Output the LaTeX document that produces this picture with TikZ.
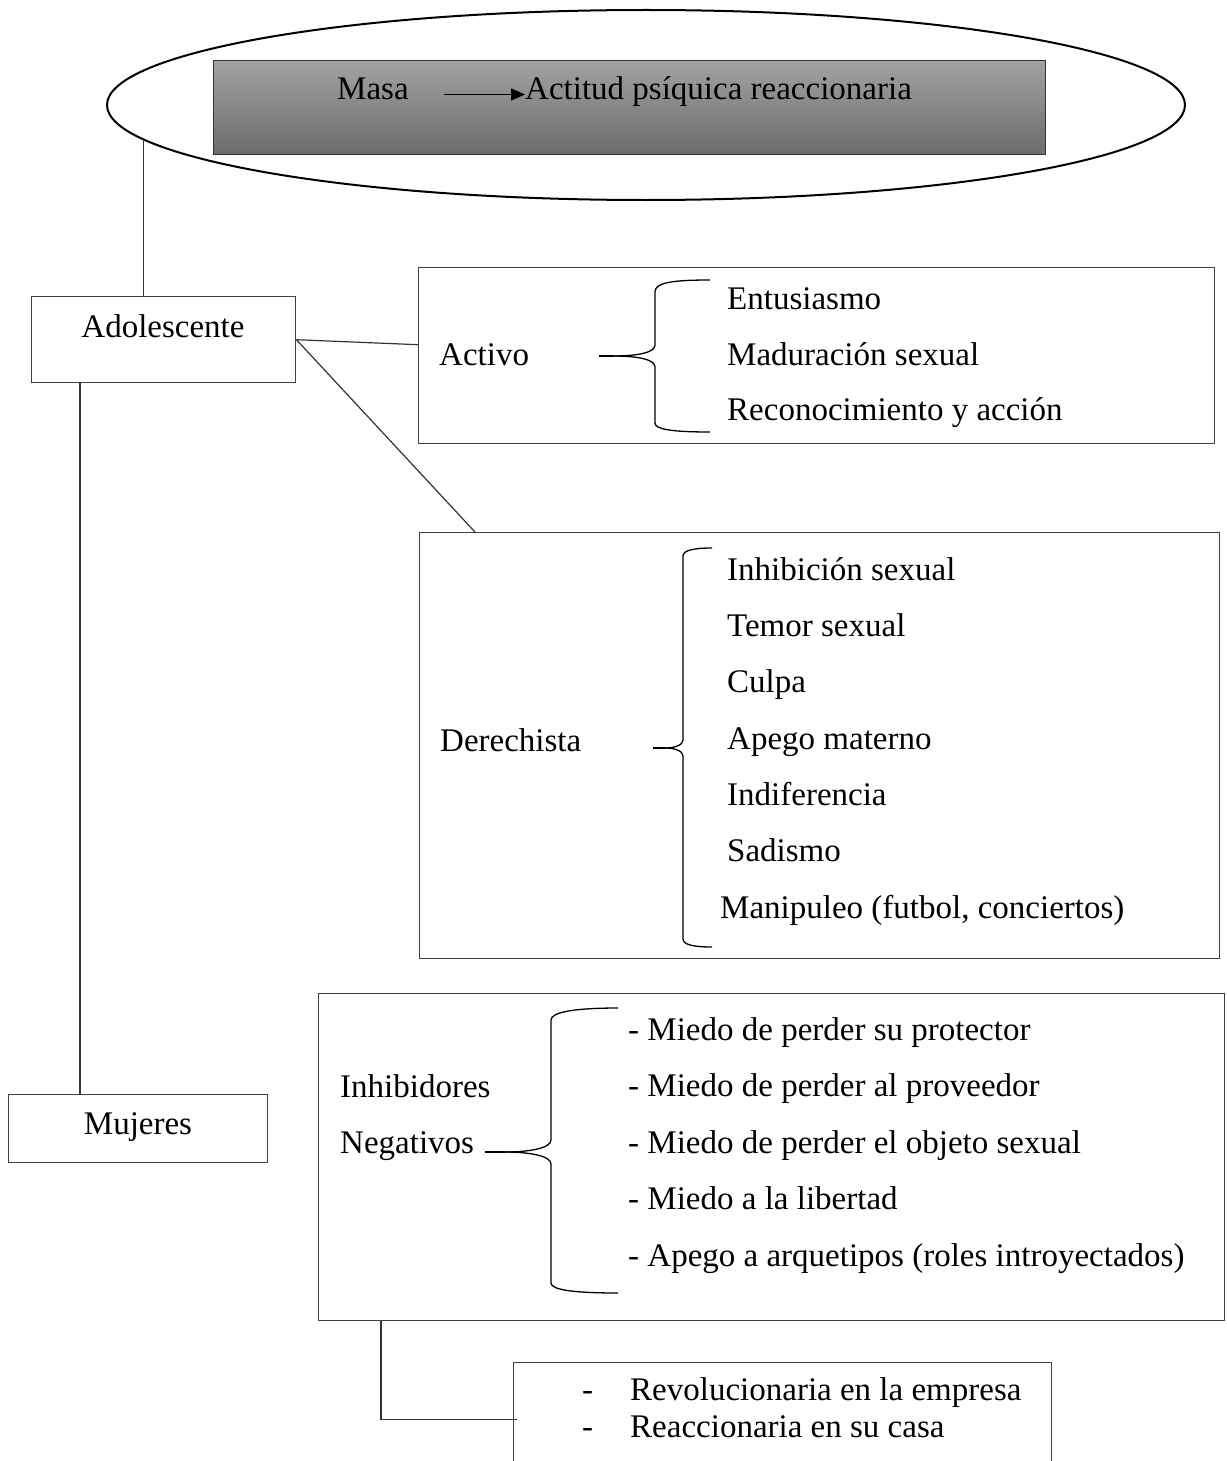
\documentclass[tikz,border=0pt]{standalone}
\usepackage{fontspec}
\setmainfont{Liberation Serif}
\usetikzlibrary{shapes.geometric, arrows.meta}
\definecolor{boxline}{RGB}{64,64,64}
\definecolor{shadetop}{RGB}{162,162,162}
\definecolor{shadebot}{RGB}{108,108,108}

\begin{document}
\begin{tikzpicture}[
  x=1pt, y=-1pt,
  box/.style={rectangle, draw=boxline, line width=1.4pt, anchor=north west,
              inner sep=0pt},
  txt/.style={font=\fontsize{33}{40}\selectfont, inner sep=0pt,
              text height=0.75em, text depth=0.25em},
  item/.style={txt, anchor=base west},
  con/.style={line width=1.2pt, draw=black!80},
  brc/.style={line width=1.3pt}
]
\useasboundingbox (0,0) rectangle (1226,1461);
\clip (0,0) rectangle (1226,1461);

% Top ellipse with shaded title box
\node[ellipse, draw, line width=2pt, minimum width=1078pt, minimum height=190pt,
      inner sep=0pt] (ell) at (646,105) {};
\node[box, draw=black!80, line width=1pt, top color=shadetop, bottom color=shadebot,
      minimum width=832pt, minimum height=94pt] (masabox) at (213,60) {};
\node[item] (masa) at (337,100) {Masa};
\node[item] (actitud) at (525,100) {Actitud psíquica reaccionaria};
\draw[-{Triangle[length=14pt,width=12pt]}, line width=1.4pt, shorten <=35pt]
  ([yshift=3pt]masa.east) -- ([yshift=3pt]actitud.west);

% Adolescente
\node[box, minimum width=264pt, minimum height=86pt] (adol) at (31,296) {};
\node[txt, anchor=base] (adolt) at (163,337) {Adolescente};

% Activo
\node[box, minimum width=796pt, minimum height=176pt] (activo) at (418,267) {};
\node[item] (activot) at (439,365) {Activo};
\draw[brc] (599,356) -- (613,356);
\draw[brc] (710,280) .. controls (670,280) and (655,283) .. (655,292) -- (655,345)
  .. controls (655,352) and (640,356) .. (613,356);
\draw[brc] (613,356) .. controls (640,356) and (655,360) .. (655,367) -- (655,423)
  .. controls (655,429) and (670,432) .. (710,432);
\node[item] (ac1) at (727,309) {Entusiasmo};
\node[item] (ac2) at (727,365) {Maduración sexual};
\node[item] (ac3) at (727,420) {Reconocimiento y acción};

% Derechista
\node[box, minimum width=800pt, minimum height=426pt] (dere) at (419,532) {};
\node[item] (deret) at (440,751) {Derechista};
\draw[brc] (653,748) -- (665,748);
\draw[brc] (712,548) .. controls (695,548) and (683,550) .. (683,556) -- (683,740)
  .. controls (683,745) and (675,748) .. (665,748);
\draw[brc] (665,748) .. controls (675,748) and (683,751) .. (683,756) -- (683,939)
  .. controls (683,945) and (695,947) .. (712,947);
\node[item] (de1) at (727,580) {Inhibición sexual};
\node[item] (de2) at (727,636) {Temor sexual};
\node[item] (de3) at (727,692) {Culpa};
\node[item] (de4) at (727,749) {Apego materno};
\node[item] (de5) at (727,805) {Indiferencia};
\node[item] (de6) at (727,861) {Sadismo};
\node[item] (de7) at (720,918) {Manipuleo (futbol, conciertos)};

% Inhibidores negativos
\node[box, minimum width=906pt, minimum height=327pt] (inh) at (318,993) {};
\node[item] (inht1) at (340,1097) {Inhibidores};
\node[item] (inht2) at (340,1153) {Negativos};
\draw[brc] (485,1152) -- (505,1152);
\draw[brc] (618,1008) .. controls (575,1008) and (551,1012) .. (551,1020) -- (551,1140)
  .. controls (551,1148) and (530,1152) .. (505,1152);
\draw[brc] (505,1152) .. controls (530,1152) and (551,1156) .. (551,1164) -- (551,1283)
  .. controls (551,1290) and (575,1293) .. (618,1293);
\node[item] (in1) at (628,1040) {- Miedo de perder su protector};
\node[item] (in2) at (628,1096) {- Miedo de perder al proveedor};
\node[item] (in3) at (628,1153) {- Miedo de perder el objeto sexual};
\node[item] (in4) at (628,1209) {- Miedo a la libertad};
\node[item] (in5) at (628,1266) {- Apego a arquetipos (roles introyectados)};

% Mujeres
\node[box, minimum width=259pt, minimum height=68pt] (muj) at (8,1094) {};
\node[txt, anchor=base] (mujt) at (138,1134) {Mujeres};

% Bottom box (runs off the page)
\node[box, minimum width=538pt, minimum height=114pt] (bot) at (513,1362) {};
\node[item] (bd1) at (582,1400) {-};
\node[item] (bt1) at (630,1400) {Revolucionaria en la empresa};
\node[item] (bd2) at (582,1437) {-};
\node[item] (bt2) at (630,1437) {Reaccionaria en su casa};

% Connectors
\draw[con] (ell.184) -- (ell.184 |- adol.north);
\draw[con] (adol.east) -- ([yshift=11pt]activo.west);
\draw[con] (adol.east) -- ([xshift=56pt]dere.north west);
\draw[con] ([xshift=49pt]adol.south west) -- ([xshift=49pt]adol.south west |- muj.north);
\draw[con] ([xshift=63pt]inh.south west) |- ([xshift=4pt]bot.west);

\end{tikzpicture}
\end{document}
